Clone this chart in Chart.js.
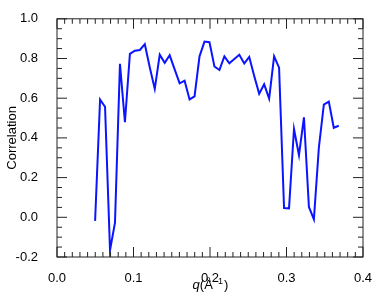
<!DOCTYPE html>
<html>
<head>
<meta charset="utf-8">
<script src="https://cdn.jsdelivr.net/npm/chart.js@4/dist/chart.umd.min.js"></script>
<style>
	html, body { margin: 0; padding: 0; background: #fff; }
	#wrap { width: 382px; height: 300px; }
</style>
</head>
<body>
<div id="wrap"><canvas id="chart1"></canvas></div>
<script>
// q in 1/Angstrom
var qValues = [0.0498, 0.0563, 0.0628, 0.0693, 0.0758, 0.0823, 0.0888, 0.0953, 0.1018, 0.1083,
	0.1148, 0.1213, 0.1278, 0.1343, 0.1408, 0.1473, 0.1538, 0.1603, 0.1668, 0.1733,
	0.1798, 0.1863, 0.1928, 0.1993, 0.2058, 0.2123, 0.2188, 0.2253, 0.2318, 0.2383,
	0.2448, 0.2513, 0.2578, 0.2643, 0.2708, 0.2773, 0.2838, 0.2903, 0.2968, 0.3033,
	0.3098, 0.3163, 0.3228, 0.3293, 0.3358, 0.3423, 0.3488, 0.3553, 0.3618, 0.3683];
var correlation = [-0.018, 0.593, 0.557, -0.166, -0.027, 0.773, 0.479, 0.823, 0.839, 0.843,
	0.872, 0.755, 0.647, 0.819, 0.778, 0.816, 0.745, 0.675, 0.688, 0.594,
	0.609, 0.811, 0.885, 0.882, 0.760, 0.742, 0.811, 0.776, 0.798, 0.819,
	0.775, 0.808, 0.712, 0.622, 0.670, 0.598, 0.811, 0.754, 0.047, 0.045,
	0.445, 0.313, 0.504, 0.052, -0.010, 0.351, 0.568, 0.583, 0.451, 0.461];
var xTicks = [0.0, 0.1, 0.2, 0.3, 0.4];
var yTicks = [-0.2, 0.0, 0.2, 0.4, 0.6, 0.8, 1.0];

var points = [];
for(var i = 0; i < qValues.length; i++){
	points.push({x: qValues[i], y: correlation[i]});
}

var FONT = '"Liberation Sans", Arial, sans-serif';

// box frame with inward ticks on all four sides, plus the x title with italic q
var frameTicks = {
	id: 'frameTicks',
	afterDraw: function(chart){
		var ctx = chart.ctx;
		var a = chart.chartArea;
		var xs = chart.scales.x;
		var ys = chart.scales.y;
		ctx.save();
		ctx.strokeStyle = '#222';
		ctx.lineWidth = 1;
		ctx.strokeRect(a.left, a.top, a.right - a.left, a.bottom - a.top);
		ctx.beginPath();
		for(var i = 0; i <= 40; i++){
			var px = xs.getPixelForValue(i / 100);
			var len = (i % 10 == 0) ? 10 : 5;
			ctx.moveTo(px, a.bottom); ctx.lineTo(px, a.bottom - len);
			ctx.moveTo(px, a.top); ctx.lineTo(px, a.top + len);
		}
		for(var j = -4; j <= 20; j++){
			var py = ys.getPixelForValue(j * 0.05);
			var len2 = (j % 4 == 0) ? 10 : 5;
			ctx.moveTo(a.left, py); ctx.lineTo(a.left + len2, py);
			ctx.moveTo(a.right, py); ctx.lineTo(a.right - len2, py);
		}
		ctx.stroke();

		// x title: q(Å^-1)
		var parts = [
			{t: 'q', f: 'italic 13px ' + FONT, dy: 0},
			{t: '(Å', f: '13px ' + FONT, dy: 0},
			{t: '−1', f: '9px ' + FONT, dy: -5},
			{t: ')', f: '13px ' + FONT, dy: 0}
		];
		var total = 0;
		parts.forEach(function(p){ ctx.font = p.f; p.w = ctx.measureText(p.t).width; total += p.w; });
		var cx = (a.left + a.right) / 2;
		var x0 = cx - total / 2;
		var base = 289;
		ctx.fillStyle = '#000';
		ctx.textBaseline = 'alphabetic';
		ctx.textAlign = 'left';
		parts.forEach(function(p){
			ctx.font = p.f;
			ctx.fillText(p.t, x0, base + p.dy);
			x0 += p.w + (p.t == '−1' ? 1 : 0);
		});
		ctx.restore();
	}
};

Chart.defaults.font.family = FONT;
Chart.defaults.color = '#000';

var ctx = document.getElementById('chart1').getContext('2d');
var myChart = new Chart(ctx, {
	type: 'line',
	data: {
		datasets: [{
			label: 'Correlation',
			data: points,
			borderColor: '#0a14ff',
			borderWidth: 2,
			pointRadius: 0,
			fill: false,
			tension: 0
		}]
	},
	options: {
		responsive: true,
		maintainAspectRatio: false,
		animation: false,
		layout: { padding: { left: 0, right: 19, top: 13, bottom: 0 } },
		plugins: { legend: { display: false }, tooltip: { enabled: false } },
		scales: {
			x: {
				type: 'linear',
				min: 0, max: 0.4,
				grid: { display: false },
				border: { display: false },
				afterBuildTicks: function(s){ s.ticks = xTicks.map(function(v){ return {value: v}; }); },
				afterFit: function(s){ s.height = 43; },
				ticks: {
					font: { size: 13 },
					padding: 6,
					maxRotation: 0,
					callback: function(v){ return v.toFixed(1); }
				}
			},
			y: {
				type: 'linear',
				min: -0.2, max: 1.0,
				grid: { display: false },
				border: { display: false },
				afterBuildTicks: function(s){ s.ticks = yTicks.map(function(v){ return {value: v}; }); },
				afterFit: function(s){ s.width = 57; },
				ticks: {
					font: { size: 13 },
					padding: 11,
					callback: function(v){ return v.toFixed(1); }
				},
				title: {
					display: true,
					text: 'Correlation',
					font: { size: 13 },
					padding: { top: 5, bottom: 0 }
				}
			}
		}
	},
	plugins: [frameTicks]
});
</script>
</body>
</html>
